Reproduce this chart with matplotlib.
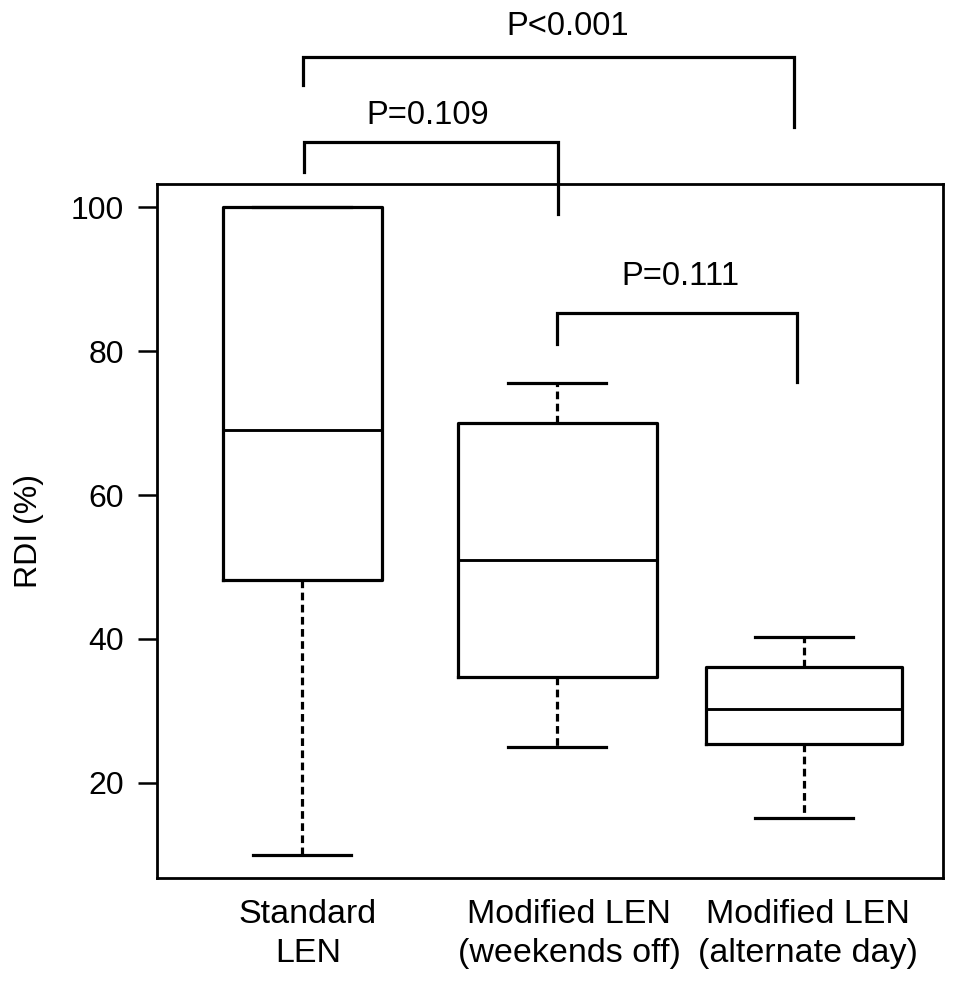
import matplotlib
matplotlib.use("Agg")
import matplotlib.pyplot as plt

plt.rcParams['font.family'] = ['Liberation Sans', 'DejaVu Sans']

categories = ["Standard\nLEN", "Modified LEN\n(weekends off)", "Modified LEN\n(alternate day)"]
q1 = [48.2, 34.7, 25.4]
medians = [69.0, 51.0, 30.3]
q3 = [100.0, 70.0, 36.1]
whislo = [10.0, 25.0, 15.1]
whishi = [100.0, 75.6, 40.3]

comparisons = [(0, 2, "P<0.001"), (0, 1, "P=0.109"), (1, 2, "P=0.111")]
yticks = [20, 40, 60, 80, 100]

# layout (x in axis units, 1 unit ~ 250 px)
positions = [1.0, 2.02, 3.008]
widths = [0.636, 0.796, 0.784]
label_x = [1.024, 2.068, 3.024]
bracket_x = [(1.004, 2.968), (1.008, 2.024), (2.02, 2.98)]
text_x = [2.064, 1.504, 2.512]
levels = [(120.8, 116.9, 111.1, 125.1), (109.0, 104.9, 99.0, 112.7), (85.3, 81.0, 75.7, 90.3)]

fig = plt.figure(figsize=(9.69, 9.85), dpi=100)
ax = fig.add_axes([157/969, 1-878/985, (943-157)/969, (878-184)/985])

stats = []
for i in range(len(categories)):
    stats.append(dict(med=medians[i], q1=q1[i], q3=q3[i], whislo=whislo[i], whishi=whishi[i], fliers=[]))

lw = 2.3
ax.bxp(stats, positions=positions, widths=widths, showfliers=False, patch_artist=False,
       boxprops=dict(color='black', linewidth=lw),
       medianprops=dict(color='black', linewidth=lw*0.9),
       whiskerprops=dict(color='black', linewidth=lw, linestyle=(0, (2.4, 1.4))),
       capprops=dict(color='black', linewidth=lw),
       capwidths=0.392)

ax.set_xlim(0.42, 3.564)
ax.set_ylim(6.8, 103.2)
ax.set_yticks(yticks)
ax.set_xticks(label_x)
ax.set_xticklabels(categories, fontsize=24.5, linespacing=1.32)
ax.tick_params(axis='x', length=0, pad=15)
ax.tick_params(axis='y', direction='out', length=14, width=1.8, labelsize=23, pad=10)
for s in ax.spines.values():
    s.set_linewidth(2.0)
ax.set_ylabel("RDI (%)", fontsize=23, labelpad=19)

for (a, b, label), (xa, xb), tx, (top, ly, ry, ty) in zip(comparisons, bracket_x, text_x, levels):
    ax.plot([xa, xa, xb, xb], [ly, top, top, ry], color='black', linewidth=lw,
            clip_on=False, solid_joinstyle='miter')
    ax.text(tx, ty, label, ha='center', va='center', fontsize=23.5)

fig.savefig("out.png", dpi=100)
